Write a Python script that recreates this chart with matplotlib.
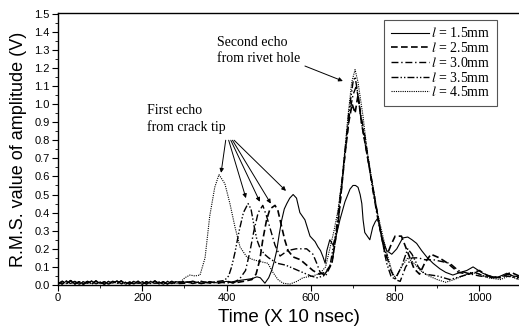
import matplotlib
matplotlib.use("Agg")
import matplotlib.pyplot as plt
from matplotlib.ticker import MultipleLocator

plt.rcParams['font.family'] = ['Liberation Sans', 'DejaVu Sans']
plt.rcParams['mathtext.fontset'] = 'stix'

# ---- data (time in units of 10 nsec, RMS amplitude in V) ----
base_a = [(0, 0.015), (10, 0.005), (20, 0.022), (30, 0.008), (40, 0.02), (50, 0.004), (60, 0.018),
          (70, 0.01), (80, 0.022), (90, 0.006), (100, 0.016), (110, 0.004), (120, 0.02), (130, 0.01),
          (140, 0.022), (150, 0.006), (160, 0.015), (170, 0.005), (180, 0.02), (190, 0.008),
          (200, 0.018), (210, 0.005), (220, 0.02), (230, 0.008), (240, 0.016), (250, 0.004),
          (260, 0.02), (270, 0.008), (280, 0.018)]
base_b = [(0, 0.005), (10, 0.02), (20, 0.008), (30, 0.024), (40, 0.006), (50, 0.018), (60, 0.004),
          (70, 0.02), (80, 0.006), (90, 0.022), (100, 0.008), (110, 0.018), (120, 0.005), (130, 0.02),
          (140, 0.008), (150, 0.022), (160, 0.005), (170, 0.016), (180, 0.006), (190, 0.02),
          (200, 0.004), (210, 0.018), (220, 0.008), (230, 0.022), (240, 0.006), (250, 0.018),
          (260, 0.005), (270, 0.02), (280, 0.008)]

l15 = base_a + [(300, 0.015), (320, 0.02), (340, 0.01), (360, 0.015), (380, 0.012), (400, 0.02), (415, 0.01),
       (430, 0.025), (445, 0.03), (460, 0.035), (472, 0.045), (480, 0.04), (491, 0.01), (500, 0.04),
       (507, 0.08), (513, 0.13), (519, 0.19), (525, 0.28), (531, 0.36), (537, 0.42), (543, 0.45),
       (550, 0.48), (558, 0.50), (566, 0.48), (574, 0.40), (586, 0.36), (598, 0.27), (610, 0.24),
       (617, 0.21), (623, 0.19), (629, 0.155), (634, 0.12), (638, 0.19), (645, 0.25), (653, 0.22),
       (661, 0.28), (669, 0.36), (681, 0.46), (693, 0.53), (700, 0.55), (706, 0.55), (712, 0.54),
       (717, 0.50), (721, 0.45), (724, 0.36), (728, 0.29), (734, 0.27), (740, 0.25), (747, 0.32),
       (753, 0.35), (759, 0.37), (768, 0.27), (780, 0.19), (792, 0.17), (804, 0.20), (818, 0.26),
       (830, 0.265), (840, 0.25), (851, 0.23), (863, 0.19), (875, 0.155), (890, 0.12), (906, 0.09),
       (920, 0.07), (937, 0.055), (955, 0.07), (970, 0.08), (985, 0.10), (1008, 0.065), (1025, 0.05),
       (1041, 0.04), (1065, 0.065), (1080, 0.05), (1094, 0.045)]

l25 = base_b + [(300, 0.01), (320, 0.02), (340, 0.008), (360, 0.018), (380, 0.01), (400, 0.02), (420, 0.012),
       (440, 0.02), (460, 0.03), (470, 0.06), (479, 0.14), (486, 0.25), (495, 0.36), (503, 0.42),
       (515, 0.44), (522, 0.41), (531, 0.32), (538, 0.25), (546, 0.19), (558, 0.155), (575, 0.14),
       (590, 0.11), (605, 0.08), (620, 0.06), (635, 0.07), (650, 0.12), (665, 0.35), (680, 0.7),
       (690, 0.9), (698, 1.0), (705, 0.95), (712, 1.05), (720, 0.9), (735, 0.7), (750, 0.5),
       (765, 0.3), (778, 0.15), (790, 0.22), (800, 0.27), (815, 0.27), (830, 0.18), (845, 0.09),
       (858, 0.06), (870, 0.12), (885, 0.17), (905, 0.15), (925, 0.12), (950, 0.07), (975, 0.06),
       (1000, 0.08), (1020, 0.05), (1050, 0.04), (1075, 0.07), (1094, 0.05)]

l30 = base_b + [(300, 0.02), (320, 0.008), (340, 0.02), (360, 0.01), (380, 0.018), (400, 0.01), (420, 0.02),
       (430, 0.03), (445, 0.08), (455, 0.18), (465, 0.3), (475, 0.4), (486, 0.44), (495, 0.38),
       (505, 0.3), (515, 0.22), (527, 0.16), (545, 0.19), (565, 0.2), (590, 0.2), (605, 0.17),
       (614, 0.12), (622, 0.07), (635, 0.05), (650, 0.12), (665, 0.35), (680, 0.7), (692, 0.95),
       (700, 1.05), (708, 1.1), (718, 0.95), (730, 0.8), (745, 0.55), (760, 0.35), (775, 0.2),
       (790, 0.08), (800, 0.03), (812, 0.02), (825, 0.1), (840, 0.15), (855, 0.15), (870, 0.14),
       (890, 0.14), (910, 0.13), (930, 0.12), (950, 0.08), (980, 0.06), (1000, 0.05), (1030, 0.04),
       (1060, 0.05), (1094, 0.04)]

l35 = base_a + [(300, 0.018), (320, 0.01), (340, 0.02), (360, 0.012), (380, 0.02), (395, 0.025), (405, 0.05),
       (412, 0.1), (420, 0.18), (430, 0.3), (440, 0.4), (451, 0.45), (458, 0.42), (465, 0.33),
       (472, 0.25), (480, 0.2), (490, 0.17), (500, 0.15), (520, 0.12), (540, 0.11), (560, 0.09),
       (580, 0.07), (600, 0.05), (615, 0.04), (630, 0.05), (645, 0.1), (660, 0.3), (675, 0.6),
       (690, 0.95), (700, 1.12), (705, 1.15), (712, 1.05), (720, 0.9), (735, 0.7), (750, 0.5),
       (765, 0.3), (780, 0.12), (790, 0.05), (800, 0.03), (815, 0.1), (830, 0.2), (840, 0.17),
       (855, 0.1), (870, 0.06), (900, 0.05), (930, 0.03), (960, 0.05), (990, 0.07), (1010, 0.05),
       (1040, 0.04), (1070, 0.06), (1094, 0.03)]

l45 = base_b + [(290, 0.015), (301, 0.04), (313, 0.055), (325, 0.05), (337, 0.055), (349, 0.15), (360, 0.38),
       (372, 0.54), (382, 0.61), (396, 0.56), (408, 0.45), (420, 0.32), (432, 0.21), (448, 0.155),
       (463, 0.14), (479, 0.13), (498, 0.12), (510, 0.07), (522, 0.03), (534, 0.01), (550, 0.005),
       (567, 0.02), (581, 0.04), (605, 0.05), (622, 0.065), (635, 0.1), (645, 0.2), (655, 0.3),
       (665, 0.42), (675, 0.6), (681, 0.75), (688, 0.93), (697, 1.12), (705, 1.19), (712, 1.12),
       (724, 0.93), (733, 0.75), (745, 0.58), (757, 0.41), (771, 0.27), (780, 0.18), (792, 0.08),
       (800, 0.04), (815, 0.1), (830, 0.15), (845, 0.12), (860, 0.08), (880, 0.05), (900, 0.03),
       (920, 0.015), (940, 0.03), (960, 0.05), (980, 0.07), (1000, 0.06), (1020, 0.04), (1050, 0.03),
       (1070, 0.05), (1094, 0.03)]

labels = [r"$l$ = 1.5mm", r"$l$ = 2.5mm", r"$l$ = 3.0mm", r"$l$ = 3.5mm", r"$l$ = 4.5mm"]
series = [l15, l25, l30, l35, l45]
styles = ['-', (0, (4, 2)), (0, (5, 2, 1, 2)), (0, (5, 1.5, 1, 1.5, 1, 1.5)), (0, (1, 1))]
widths = [0.8, 1.2, 1.0, 1.0, 0.8]

fig = plt.figure(figsize=(5.19, 3.33), dpi=100)
ax = fig.add_axes([58 / 519, 1 - 285 / 333, (519 - 58) / 519, (285 - 13) / 333])

for data, lab, ls, lw in zip(series, labels, styles, widths):
    t = [p[0] for p in data]
    v = [p[1] for p in data]
    ax.plot(t, v, color='black', linestyle=ls, linewidth=lw, label=lab)

ax.set_xlim(0, 1094)
ax.set_ylim(0, 1.503)
ax.xaxis.set_major_locator(MultipleLocator(200))
ax.xaxis.set_minor_locator(MultipleLocator(100))
ax.yaxis.set_minor_locator(MultipleLocator(0.05))
ax.set_yticks([i / 10 for i in range(16)])
ax.set_yticklabels([f"{i / 10:.1f}" for i in range(16)])
ax.tick_params(axis='both', which='major', direction='out', length=4, width=0.8, labelsize=8, pad=2)
ax.tick_params(axis='both', which='minor', direction='out', length=2, width=0.6)
ax.spines['right'].set_visible(False)
for s in ['left', 'bottom', 'top']:
    ax.spines[s].set_linewidth(1.0)

ax.set_xlabel("Time (X 10 nsec)", fontsize=13.5, labelpad=4)
ax.set_ylabel("R.M.S. value of amplitude (V)", fontsize=13, labelpad=5)

leg = ax.legend(loc='upper right', bbox_to_anchor=(0.952, 0.976), fancybox=False,
                edgecolor='#555555', framealpha=1, handlelength=2.7, handletextpad=0.15,
                labelspacing=0.05, borderpad=0.5, borderaxespad=0,
                prop={'family': 'Liberation Serif', 'size': 10})
leg.get_frame().set_linewidth(0.8)

serif = {'family': 'Liberation Serif', 'size': 10}
ax.text(211, 1.0, "First echo\nfrom crack tip", va='top', ha='left', fontdict=serif, linespacing=1.25)
ax.text(377, 1.375, "Second echo\nfrom rivet hole", va='top', ha='left', fontdict=serif, linespacing=1.25)

arrow_props = dict(arrowstyle='-|>', color='black', lw=0.7, mutation_scale=6, shrinkA=0, shrinkB=0)
tails = [(398, 0.80), (405, 0.80), (410, 0.80), (414, 0.80), (418, 0.80)]
heads = [(387, 0.62), (446, 0.48), (479, 0.46), (505, 0.45), (541, 0.52)]
for (tx, ty), (hx, hy) in zip(tails, heads):
    ax.annotate("", xy=(hx, hy), xytext=(tx, ty), arrowprops=arrow_props)
ax.annotate("", xy=(676, 1.127), xytext=(586, 1.21), arrowprops=arrow_props)

fig.savefig("out.png", dpi=100)
